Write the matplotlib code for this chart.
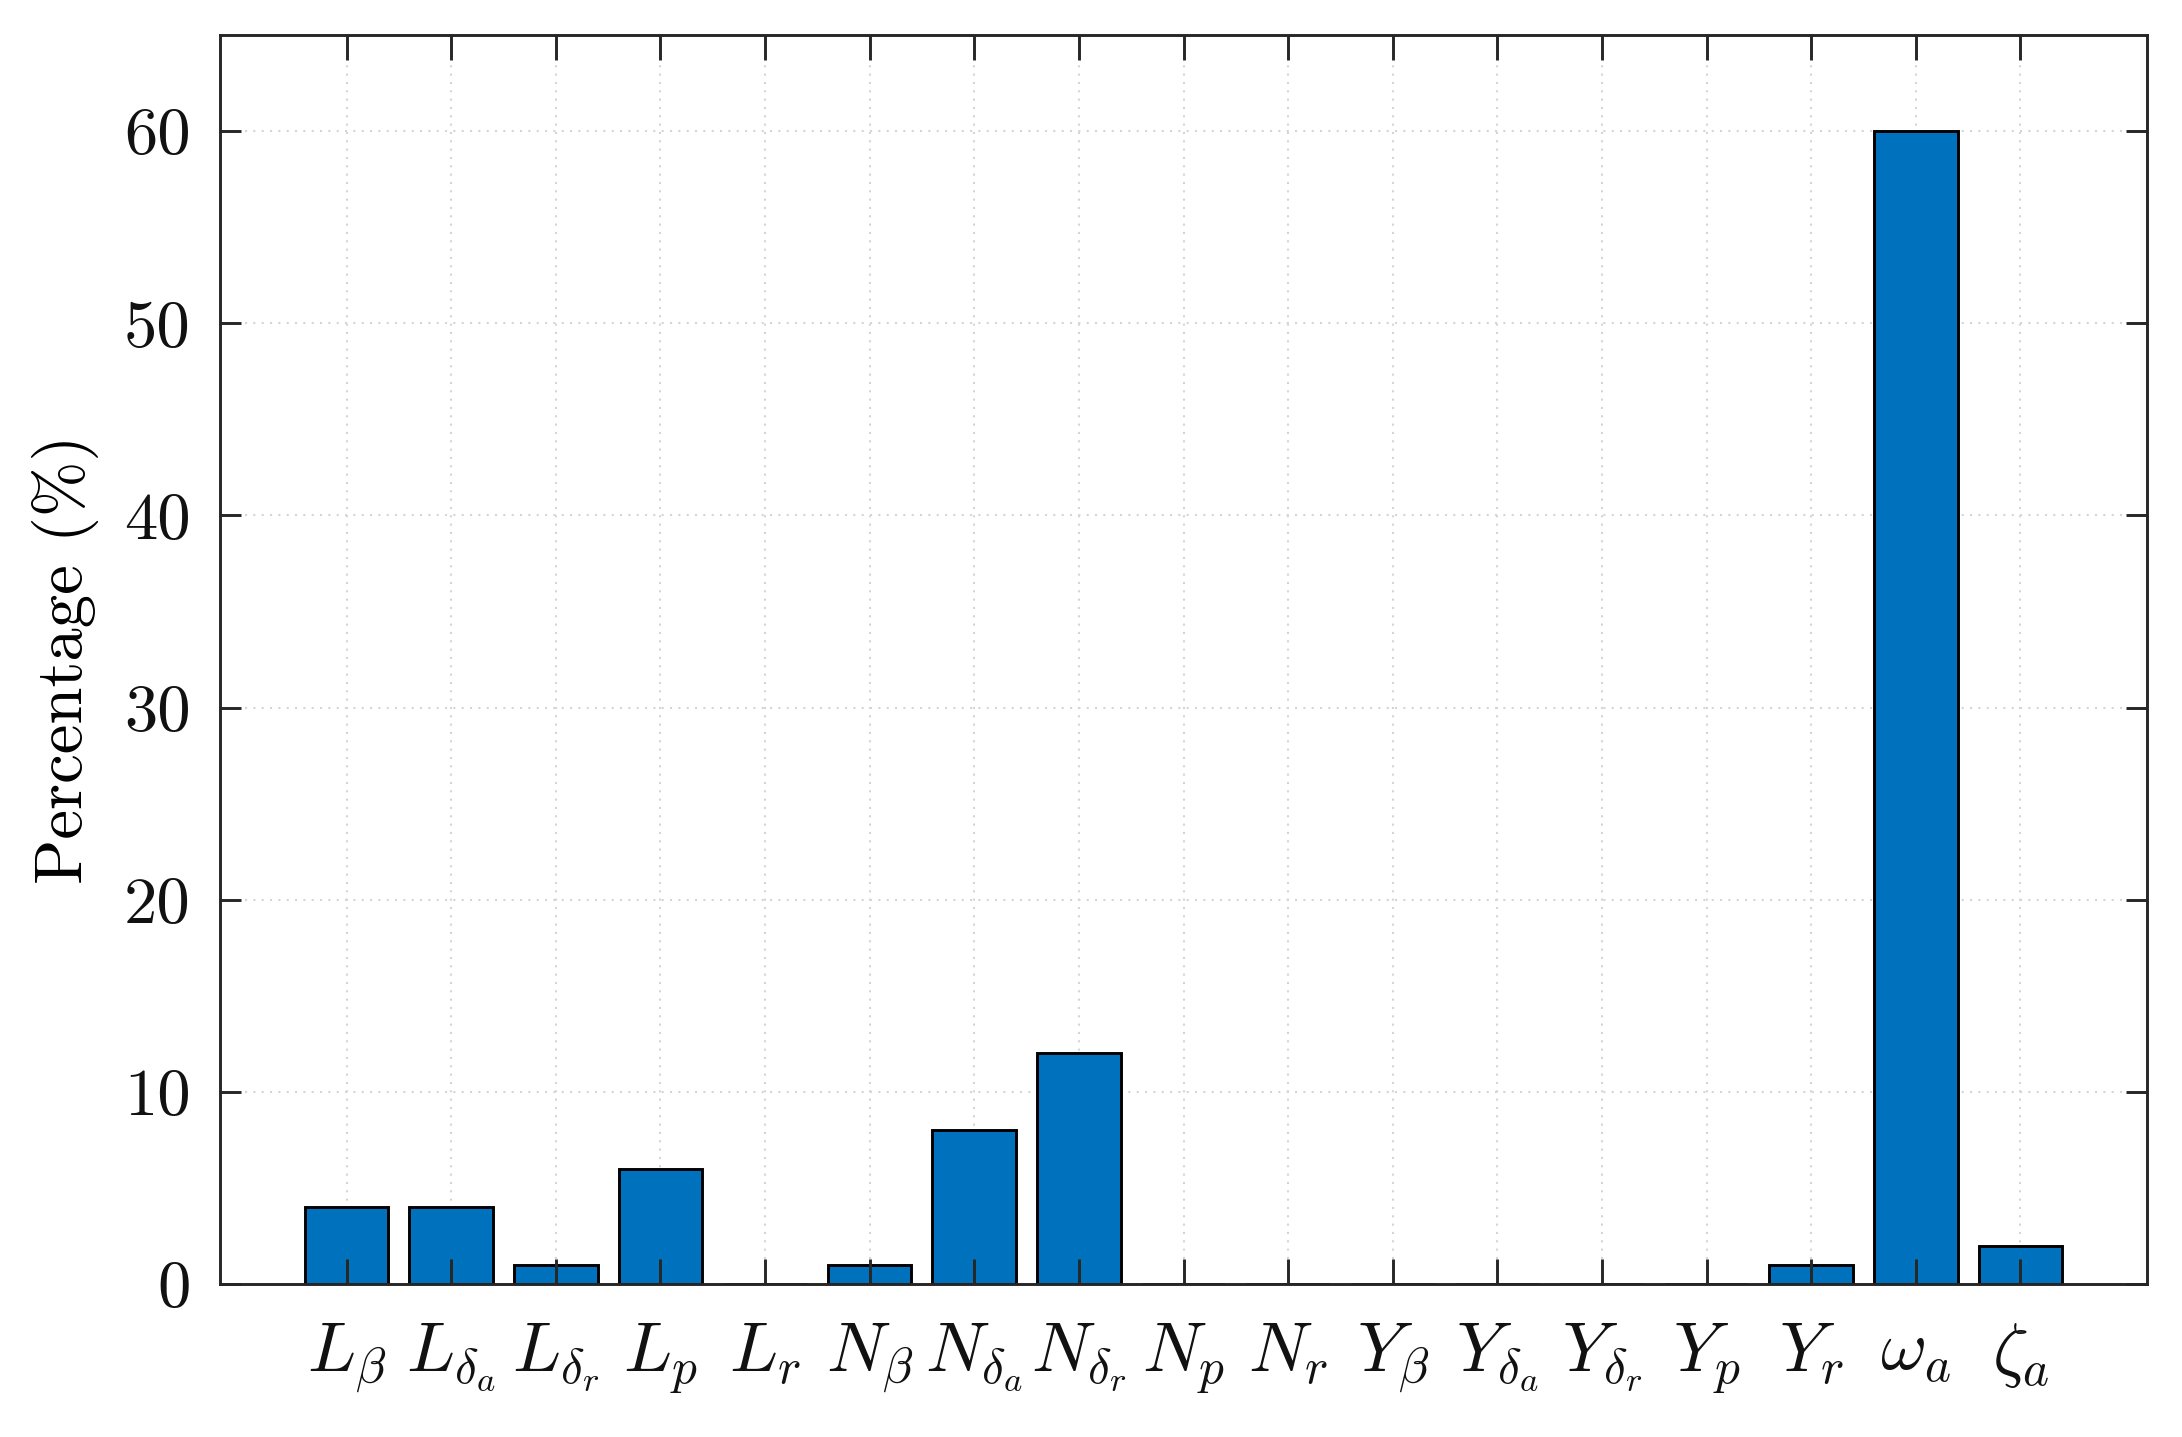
import matplotlib
matplotlib.use("Agg")
import matplotlib.pyplot as plt
import numpy as np

categories = [r'$L_\beta$', r'$L_{\delta_a}$', r'$L_{\delta_r}$', r'$L_p$', r'$L_r$',
              r'$N_\beta$', r'$N_{\delta_a}$', r'$N_{\delta_r}$', r'$N_p$', r'$N_r$',
              r'$Y_\beta$', r'$Y_{\delta_a}$', r'$Y_{\delta_r}$', r'$Y_p$', r'$Y_r$',
              r'$\omega_a$', r'$\zeta_a$']
values = [4, 4, 1, 6, 0, 1, 8, 12, 0, 0, 0, 0, 0, 0, 1, 60, 2]
yticks = [0, 10, 20, 30, 40, 50, 60]
ylabel = 'Percentage (%)'

plt.rcParams['font.family'] = 'serif'
plt.rcParams['font.serif'] = ['cmr10']
plt.rcParams['mathtext.fontset'] = 'cm'
plt.rcParams['axes.formatter.use_mathtext'] = True

fig = plt.figure(figsize=(2182/300, 1437/300), dpi=300)
ax = fig.add_axes([0.1008, 0.1065, 0.984-0.1008, 0.9756-0.1065])

x = np.arange(1, len(values) + 1)
ax.bar(x, values, width=0.8, color='#0072BD', edgecolor='black', linewidth=0.7, zorder=2)

ax.set_xlim(-0.21, 18.21)
ax.set_ylim(0, 65)
ax.set_xticks(x)
ax.set_xticklabels(categories, fontsize=17)
ax.set_yticks(yticks)
ax.set_yticklabels([str(v) for v in yticks], fontsize=16)
ax.set_ylabel(ylabel, fontsize=16, labelpad=6)

# grid below the bars
for xv in x:
    ax.axvline(xv, color='#d5d5d5', linestyle=(0, (1, 3)), linewidth=0.5, zorder=0)
for yv in yticks:
    ax.axhline(yv, color='#d5d5d5', linestyle=(0, (1, 3)), linewidth=0.5, zorder=0)

ax.set_axisbelow(False)
ax.tick_params(axis='both', direction='in', top=True, right=True, width=0.7,
               color='#262626', labelcolor='#111111')
ax.tick_params(axis='x', length=6, pad=9)
ax.tick_params(axis='y', length=5, pad=7)
for s in ax.spines.values():
    s.set_linewidth(0.7)
    s.set_color('#262626')
    s.set_zorder(3)

fig.savefig('out.png', dpi=300, facecolor='white')
